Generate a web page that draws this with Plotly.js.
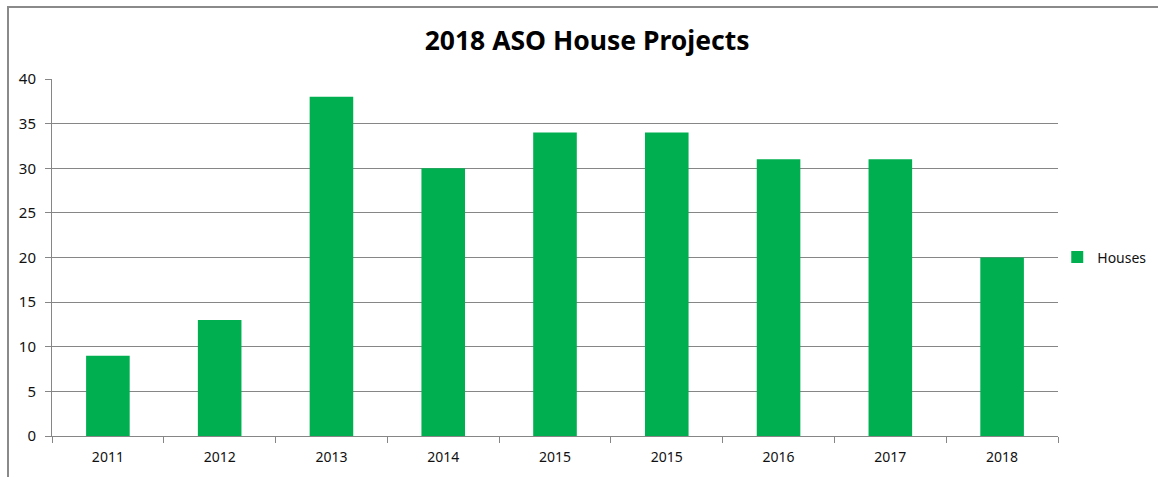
<!DOCTYPE html>
<html>
<head>
<meta charset="utf-8">
<script src="https://cdn.plot.ly/plotly-3.0.1.min.js"></script>
<style>
html,body{margin:0;padding:0;background:#fff;}
#wrap{position:relative;width:1158px;height:477px;overflow:hidden;}
#chart{position:absolute;left:0;top:0;width:1158px;height:477px;}
#frame{position:absolute;left:7px;top:6px;width:1200px;height:500px;border-top:2px solid #8a8a8a;border-left:2px solid #8a8a8a;pointer-events:none;}
</style>
</head>
<body>
<div id="wrap"><div id="chart"></div><div id="frame"></div></div>
<script>
const categories = ["2011","2012","2013","2014","2015","2015","2016","2017","2018"];
const houses = [9, 13, 38, 30, 34, 34, 31, 31, 20];
const yTicks = [0,5,10,15,20,25,30,35,40];

const positions = categories.map((c,i)=>i);
const boundaries = categories.map((c,i)=>i-0.5).concat([categories.length-0.5]);
const FONT = "Noto Sans, Open Sans, sans-serif";

const trace = {
  type: 'bar',
  x: positions,
  y: houses,
  name: 'Houses',
  marker: {color: '#00B050'},
  width: 0.39,
  hoverinfo: 'y'
};

const layout = {
  width: 1158, height: 477,
  margin: {l: 52, r: 100, t: 79, b: 41, pad: 0, autoexpand: false},
  paper_bgcolor: '#fff', plot_bgcolor: '#fff',
  showlegend: true,
  title: {text: '<b>2018 ASO House Projects</b>', x: 0.507, xref: 'container', y: 0.915, yref: 'container',
          yanchor: 'middle', font: {family: FONT, size: 26.5, color: '#000'}},
  font: {family: FONT, size: 14, color: '#111'},
  xaxis: {
    range: [-0.5, categories.length-0.5],
    tickvals: positions, ticktext: categories,
    ticks: '', showgrid: false, zeroline: false,
    showline: true, linecolor: '#868686', linewidth: 1,
    ticklabelstandoff: 8,
    tickfont: {family: FONT, size: 14, color: '#111'},
    fixedrange: true
  },
  xaxis2: {
    overlaying: 'x', matches: 'x', side: 'bottom',
    range: [-0.5, categories.length-0.5],
    tickvals: boundaries, ticktext: boundaries.map(()=>''),
    ticks: 'outside', ticklen: 6, tickcolor: '#868686', tickwidth: 1,
    showgrid: false, zeroline: false, showline: false
  },
  yaxis: {
    range: [0, 40], tickvals: yTicks, ticktext: yTicks.map(String),
    ticks: 'outside', ticklen: 6, tickcolor: '#868686',
    showgrid: true, gridcolor: '#868686', gridwidth: 1,
    zeroline: false, showline: true, linecolor: '#868686', linewidth: 1,
    ticklabelstandoff: 6,
    tickfont: {family: FONT, size: 15, color: '#111'},
    fixedrange: true
  },
  legend: {xref: 'container', x: 0.913, xanchor: 'left', y: 0.5, yanchor: 'middle',
           font: {family: FONT, size: 14, color: '#111'}, bgcolor: 'rgba(0,0,0,0)',
           itemwidth: 30},
  bargap: 0.61
};

const dummy = {type: 'scatter', x: [0], y: [0], xaxis: 'x2', yaxis: 'y', mode: 'none',
               showlegend: false, hoverinfo: 'skip'};

Plotly.newPlot('chart', [trace, dummy], layout, {displayModeBar: false, staticPlot: true});
</script>
</body>
</html>
